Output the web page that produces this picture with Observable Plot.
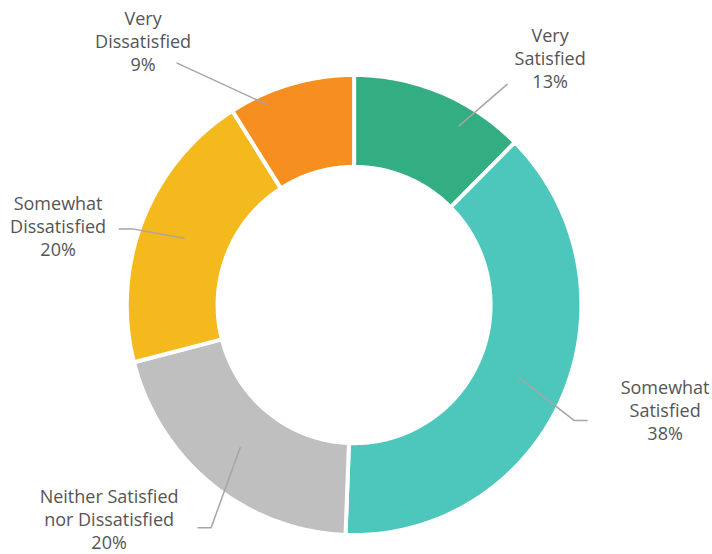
<!DOCTYPE html>
<html>
<head>
<meta charset="utf-8">
<script src="https://cdn.jsdelivr.net/npm/d3@7"></script>
<script src="https://cdn.jsdelivr.net/npm/@observablehq/plot@0.6"></script>
<style>
  html, body { margin: 0; padding: 0; background: #fff; }
  #chart svg { display: block; }
</style>
</head>
<body>
<div id="chart"></div>
<script>
// ---- Data ----
const categories = ["Very Satisfied", "Somewhat Satisfied", "Neither Satisfied nor Dissatisfied", "Somewhat Dissatisfied", "Very Dissatisfied"];
const values = [12.5, 38.1, 20.4, 20.0, 9.0];
const labelText = ["Very\nSatisfied", "Somewhat\nSatisfied", "Neither Satisfied\nnor Dissatisfied", "Somewhat\nDissatisfied", "Very\nDissatisfied"];
const colors = ["#33ad82", "#4dc7bb", "#bfbfbf", "#f4b91d", "#f68f1f"];

// ---- Layout (offsets from ring centre, in scale units) ----
const outerR = 227.3, innerR = 136.5;
const labelPos = [[196, -244], [311, 103], [-245, 211], [-296, -78], [-211, -261]];
const leaderPts = [
  [[105, -177], [153, -218]],
  [[165, 72], [220, 114], [233, 114]],
  [[-114, 141], [-143, 220], [-156, 220]],
  [[-170, -66], [-220, -75], [-235, -75]],
  [[-87, -198], [-177, -239]]
];

// ---- Build slice outlines from the values ----
const arcs = d3.pie().sort(null).value(d => d)(values);
const ring = [];
arcs.forEach((a, i) => {
  const n = Math.max(8, Math.ceil((a.endAngle - a.startAngle) / (Math.PI / 180)));
  for (let k = 0; k <= n; k++) {
    const t = a.startAngle + (a.endAngle - a.startAngle) * k / n;
    ring.push({cat: categories[i], x: outerR * Math.sin(t), y: -outerR * Math.cos(t)});
  }
  for (let k = n; k >= 0; k--) {
    const t = a.startAngle + (a.endAngle - a.startAngle) * k / n;
    ring.push({cat: categories[i], x: innerR * Math.sin(t), y: -innerR * Math.cos(t)});
  }
});

const labels = categories.map((c, i) => ({
  cat: c, x: labelPos[i][0], y: labelPos[i][1], text: `${labelText[i]}\n${Math.round(values[i])}%`
}));
const leaders = leaderPts.flatMap((pts, i) => pts.map(([x, y]) => ({cat: categories[i], x, y})));

const chart = Plot.plot({
  width: 712,
  height: 554,
  margin: 0,
  x: {domain: [-353.6, 358.4], range: [0, 712], axis: null},
  y: {domain: [-300.9, 246.5], range: [0, 554], axis: null},
  color: {domain: categories, range: colors},
  style: {fontFamily: "'Open Sans', sans-serif", background: "#fff"},
  marks: [
    Plot.line(ring, {x: "x", y: "y", z: "cat", fill: "cat", stroke: "#fff", strokeWidth: 4, curve: "linear-closed"}),
    Plot.line(leaders, {x: "x", y: "y", z: "cat", stroke: "#a6a6a6", strokeWidth: 1.5}),
    Plot.text(labels, {x: "x", y: "y", text: "text", fontSize: 18, lineHeight: 1.28, fill: "#555555"})
  ]
});
document.getElementById("chart").appendChild(chart);
</script>
</body>
</html>
